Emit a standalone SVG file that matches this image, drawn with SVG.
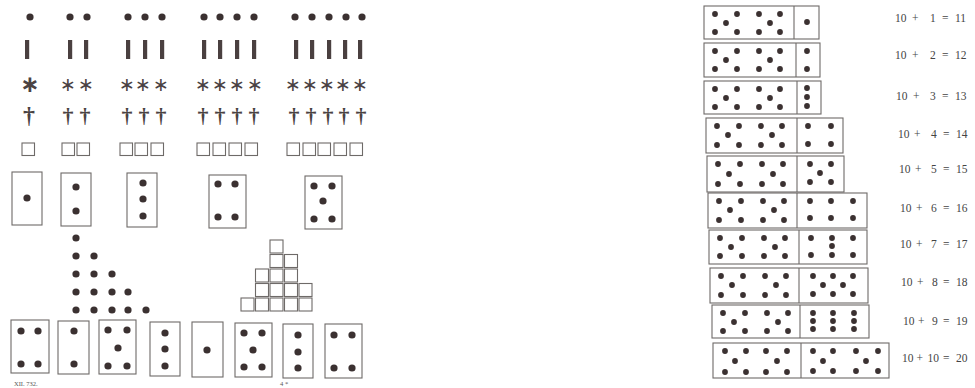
<svg xmlns="http://www.w3.org/2000/svg" xmlns:xlink="http://www.w3.org/1999/xlink" width="975" height="388" viewBox="0 0 975 388">
<style>
.d{fill:#3b3131}
.sd{fill:#3b3131}
.o{fill:none;stroke:#6e6a68;stroke-width:1.1}
.bar{fill:#4a4040}
.ast{font-family:"DejaVu Sans",sans-serif;font-size:19px;fill:#4a4242;text-anchor:middle}
.dag{font-family:"Liberation Serif",serif;font-size:22px;font-weight:bold;fill:#4a4242;text-anchor:middle}
.lbl{font-family:"Liberation Serif",serif;font-size:11.5px;fill:#444}
.cap{font-family:"Liberation Serif",serif;font-size:6.5px;fill:#555}
</style>
<defs>
<circle id="dot" r="3.6" class="d"/>
<circle id="sdot" r="2.9" class="sd"/>
<rect id="sq" width="12.5" height="12.5" class="o"/>
<rect id="bq" width="13" height="13" class="o"/>
<rect id="br" x="-2" width="4.2" height="19" class="bar"/>
</defs>
<rect width="975" height="388" fill="#fff"/>

<g id="row-dots">
<use xlink:href="#dot" x="30" y="17"/>
<use xlink:href="#dot" x="70" y="17"/><use xlink:href="#dot" x="87" y="17"/>
<use xlink:href="#dot" x="128" y="17"/><use xlink:href="#dot" x="145" y="17"/><use xlink:href="#dot" x="162" y="17"/>
<use xlink:href="#dot" x="204" y="17"/><use xlink:href="#dot" x="220" y="17"/><use xlink:href="#dot" x="237" y="17"/><use xlink:href="#dot" x="254" y="17"/>
<use xlink:href="#dot" x="295" y="17"/><use xlink:href="#dot" x="312" y="17"/><use xlink:href="#dot" x="329" y="17"/><use xlink:href="#dot" x="346" y="17"/><use xlink:href="#dot" x="362" y="17"/>
</g>

<g id="row-bars">
<use xlink:href="#br" x="27" y="40"/>
<use xlink:href="#br" x="70" y="40"/><use xlink:href="#br" x="86" y="40"/>
<use xlink:href="#br" x="128" y="40"/><use xlink:href="#br" x="145" y="40"/><use xlink:href="#br" x="162" y="40"/>
<use xlink:href="#br" x="204" y="40"/><use xlink:href="#br" x="220" y="40"/><use xlink:href="#br" x="237" y="40"/><use xlink:href="#br" x="254" y="40"/>
<use xlink:href="#br" x="296" y="40"/><use xlink:href="#br" x="312" y="40"/><use xlink:href="#br" x="329" y="40"/><use xlink:href="#br" x="345" y="40"/><use xlink:href="#br" x="360" y="40"/>
</g>

<g id="row-asterisks">
<text class="ast" x="30" y="92" style="font-size:23px;font-weight:bold">∗</text>
<text class="ast" x="68" y="91">∗</text><text class="ast" x="86" y="91">∗</text>
<text class="ast" x="127" y="91">∗</text><text class="ast" x="143" y="91">∗</text><text class="ast" x="161" y="91">∗</text>
<text class="ast" x="203" y="91">∗</text><text class="ast" x="220" y="91">∗</text><text class="ast" x="237" y="91">∗</text><text class="ast" x="255" y="91">∗</text>
<text class="ast" x="293" y="91">∗</text><text class="ast" x="310" y="91">∗</text><text class="ast" x="327" y="91">∗</text><text class="ast" x="343" y="91">∗</text><text class="ast" x="360" y="91">∗</text>
</g>

<g id="row-daggers">
<text class="dag" x="29" y="123" style="font-size:24px">†</text>
<text class="dag" x="68" y="123">†</text><text class="dag" x="85" y="123">†</text>
<text class="dag" x="127" y="123">†</text><text class="dag" x="144" y="123">†</text><text class="dag" x="161" y="123">†</text>
<text class="dag" x="203" y="123">†</text><text class="dag" x="220" y="123">†</text><text class="dag" x="237" y="123">†</text><text class="dag" x="254" y="123">†</text>
<text class="dag" x="294" y="123">†</text><text class="dag" x="311" y="123">†</text><text class="dag" x="328" y="123">†</text><text class="dag" x="344" y="123">†</text><text class="dag" x="361" y="123">†</text>
</g>

<g id="row-squares">
<use xlink:href="#sq" x="22" y="143"/>
<use xlink:href="#sq" x="62" y="143"/><use xlink:href="#sq" x="77" y="143"/>
<use xlink:href="#sq" x="120" y="143"/><use xlink:href="#sq" x="135" y="143"/><use xlink:href="#sq" x="151" y="143"/>
<use xlink:href="#sq" x="197" y="143"/><use xlink:href="#sq" x="213" y="143"/><use xlink:href="#sq" x="229" y="143"/><use xlink:href="#sq" x="245" y="143"/>
<use xlink:href="#sq" x="287" y="143"/><use xlink:href="#sq" x="303" y="143"/><use xlink:href="#sq" x="318" y="143"/><use xlink:href="#sq" x="334" y="143"/><use xlink:href="#sq" x="350" y="143"/>
</g>

<g id="card-1"><rect class="o" x="12" y="172" width="30" height="53"/><use xlink:href="#dot" x="27" y="198"/></g>
<g id="card-2"><rect class="o" x="61" y="173" width="30" height="53"/><use xlink:href="#dot" x="76" y="187"/><use xlink:href="#dot" x="76" y="211"/></g>
<g id="card-3"><rect class="o" x="127" y="173" width="30" height="54"/><use xlink:href="#dot" x="143" y="183"/><use xlink:href="#dot" x="143" y="199"/><use xlink:href="#dot" x="143" y="216"/></g>
<g id="card-4"><rect class="o" x="209" y="175" width="37" height="53"/><use xlink:href="#dot" x="218" y="184"/><use xlink:href="#dot" x="235" y="184"/><use xlink:href="#dot" x="218" y="217"/><use xlink:href="#dot" x="235" y="217"/></g>
<g id="card-5"><rect class="o" x="305" y="176" width="37" height="53"/><use xlink:href="#dot" x="314" y="186"/><use xlink:href="#dot" x="332" y="186"/><use xlink:href="#dot" x="323" y="201"/><use xlink:href="#dot" x="314" y="219"/><use xlink:href="#dot" x="332" y="219"/></g>

<g id="dot-triangle">
<use xlink:href="#dot" x="76" y="238"/>
<use xlink:href="#dot" x="76" y="256"/><use xlink:href="#dot" x="94" y="256"/>
<use xlink:href="#dot" x="76" y="274"/><use xlink:href="#dot" x="94" y="274"/><use xlink:href="#dot" x="112" y="274"/>
<use xlink:href="#dot" x="76" y="292"/><use xlink:href="#dot" x="94" y="292"/><use xlink:href="#dot" x="112" y="292"/><use xlink:href="#dot" x="128" y="292"/>
<use xlink:href="#dot" x="76" y="310"/><use xlink:href="#dot" x="94" y="310"/><use xlink:href="#dot" x="112" y="310"/><use xlink:href="#dot" x="128" y="310"/><use xlink:href="#dot" x="146" y="310"/>
</g>

<g id="square-pyramid">
<use xlink:href="#bq" x="270" y="240"/>
<use xlink:href="#bq" x="270" y="254.5"/><use xlink:href="#bq" x="284.5" y="254.5"/>
<use xlink:href="#bq" x="255.5" y="269"/><use xlink:href="#bq" x="270" y="269"/><use xlink:href="#bq" x="284.5" y="269"/>
<use xlink:href="#bq" x="255.5" y="283.5"/><use xlink:href="#bq" x="270" y="283.5"/><use xlink:href="#bq" x="284.5" y="283.5"/><use xlink:href="#bq" x="299" y="283.5"/>
<use xlink:href="#bq" x="241" y="298"/><use xlink:href="#bq" x="255.5" y="298"/><use xlink:href="#bq" x="270" y="298"/><use xlink:href="#bq" x="284.5" y="298"/><use xlink:href="#bq" x="299" y="298"/>
</g>

<g id="bcard-1"><rect class="o" x="11" y="320" width="38" height="53"/><use xlink:href="#dot" x="21" y="331"/><use xlink:href="#dot" x="38" y="331"/><use xlink:href="#dot" x="21" y="364"/><use xlink:href="#dot" x="38" y="364"/></g>
<g id="bcard-2"><rect class="o" x="58" y="321" width="31" height="53"/><use xlink:href="#dot" x="74" y="331"/><use xlink:href="#dot" x="74" y="364"/></g>
<g id="bcard-3"><rect class="o" x="99" y="320" width="37" height="54"/><use xlink:href="#dot" x="108" y="330"/><use xlink:href="#dot" x="127" y="330"/><use xlink:href="#dot" x="118" y="348"/><use xlink:href="#dot" x="108" y="366"/><use xlink:href="#dot" x="127" y="366"/></g>
<g id="bcard-4"><rect class="o" x="150" y="322" width="30" height="54"/><use xlink:href="#dot" x="165" y="333"/><use xlink:href="#dot" x="165" y="349"/><use xlink:href="#dot" x="165" y="366"/></g>
<g id="bcard-5"><rect class="o" x="192" y="322" width="31" height="55"/><use xlink:href="#dot" x="207" y="350"/></g>
<g id="bcard-6"><rect class="o" x="235" y="323" width="37" height="54"/><use xlink:href="#dot" x="244" y="333"/><use xlink:href="#dot" x="262" y="333"/><use xlink:href="#dot" x="253" y="350"/><use xlink:href="#dot" x="244" y="367"/><use xlink:href="#dot" x="262" y="367"/></g>
<g id="bcard-7"><rect class="o" x="283" y="324" width="30" height="54"/><use xlink:href="#dot" x="298" y="335"/><use xlink:href="#dot" x="298" y="352"/><use xlink:href="#dot" x="298" y="368"/></g>
<g id="bcard-8"><rect class="o" x="325" y="324" width="37" height="54"/><use xlink:href="#dot" x="334" y="335"/><use xlink:href="#dot" x="352" y="335"/><use xlink:href="#dot" x="334" y="368"/><use xlink:href="#dot" x="352" y="368"/></g>

<g id="captions">
<text class="cap" x="14" y="386">XII. 732.</text>
<text class="cap" x="280" y="386">4 *</text>
</g>

<g id="domino-1"><rect class="o" x="704" y="6" width="115" height="33"/><line class="o" x1="794" y1="6" x2="794" y2="39"/>
<use xlink:href="#sdot" x="715" y="14"/><use xlink:href="#sdot" x="737" y="14"/><use xlink:href="#sdot" x="726" y="23"/><use xlink:href="#sdot" x="715" y="32"/><use xlink:href="#sdot" x="737" y="32"/>
<use xlink:href="#sdot" x="759" y="14"/><use xlink:href="#sdot" x="780" y="14"/><use xlink:href="#sdot" x="770" y="23"/><use xlink:href="#sdot" x="759" y="32"/><use xlink:href="#sdot" x="780" y="32"/>
<use xlink:href="#sdot" x="807" y="22"/></g>

<g id="domino-2"><rect class="o" x="704" y="43" width="116" height="34"/><line class="o" x1="796" y1="43" x2="796" y2="77"/>
<use xlink:href="#sdot" x="715" y="51"/><use xlink:href="#sdot" x="737" y="51"/><use xlink:href="#sdot" x="726" y="60"/><use xlink:href="#sdot" x="715" y="69"/><use xlink:href="#sdot" x="737" y="69"/>
<use xlink:href="#sdot" x="759" y="51"/><use xlink:href="#sdot" x="780" y="51"/><use xlink:href="#sdot" x="770" y="60"/><use xlink:href="#sdot" x="759" y="69"/><use xlink:href="#sdot" x="780" y="69"/>
<use xlink:href="#sdot" x="807" y="51"/><use xlink:href="#sdot" x="807" y="69"/></g>

<g id="domino-3"><rect class="o" x="704" y="81" width="117" height="33"/><line class="o" x1="797" y1="81" x2="797" y2="114"/>
<use xlink:href="#sdot" x="715" y="89"/><use xlink:href="#sdot" x="737" y="89"/><use xlink:href="#sdot" x="726" y="98"/><use xlink:href="#sdot" x="715" y="107"/><use xlink:href="#sdot" x="737" y="107"/>
<use xlink:href="#sdot" x="759" y="89"/><use xlink:href="#sdot" x="780" y="89"/><use xlink:href="#sdot" x="770" y="98"/><use xlink:href="#sdot" x="759" y="107"/><use xlink:href="#sdot" x="780" y="107"/>
<use xlink:href="#sdot" x="807" y="88"/><use xlink:href="#sdot" x="807" y="97"/><use xlink:href="#sdot" x="807" y="106"/></g>

<g id="domino-4"><rect class="o" x="706" y="118" width="137" height="35"/><line class="o" x1="797" y1="118" x2="797" y2="153"/>
<use xlink:href="#sdot" x="717" y="126"/><use xlink:href="#sdot" x="739" y="126"/><use xlink:href="#sdot" x="728" y="135"/><use xlink:href="#sdot" x="717" y="145"/><use xlink:href="#sdot" x="739" y="145"/>
<use xlink:href="#sdot" x="761" y="126"/><use xlink:href="#sdot" x="782" y="126"/><use xlink:href="#sdot" x="772" y="135"/><use xlink:href="#sdot" x="761" y="145"/><use xlink:href="#sdot" x="782" y="145"/>
<use xlink:href="#sdot" x="808" y="126"/><use xlink:href="#sdot" x="831" y="126"/><use xlink:href="#sdot" x="808" y="144"/><use xlink:href="#sdot" x="831" y="144"/></g>

<g id="domino-5"><rect class="o" x="707" y="156" width="137" height="36"/><line class="o" x1="797" y1="156" x2="797" y2="192"/>
<use xlink:href="#sdot" x="718" y="164"/><use xlink:href="#sdot" x="740" y="164"/><use xlink:href="#sdot" x="729" y="174"/><use xlink:href="#sdot" x="718" y="184"/><use xlink:href="#sdot" x="740" y="184"/>
<use xlink:href="#sdot" x="762" y="164"/><use xlink:href="#sdot" x="783" y="164"/><use xlink:href="#sdot" x="773" y="174"/><use xlink:href="#sdot" x="762" y="184"/><use xlink:href="#sdot" x="783" y="184"/>
<use xlink:href="#sdot" x="810" y="164"/><use xlink:href="#sdot" x="831" y="164"/><use xlink:href="#sdot" x="820" y="173"/><use xlink:href="#sdot" x="810" y="182"/><use xlink:href="#sdot" x="831" y="182"/></g>

<g id="domino-6"><rect class="o" x="708" y="193" width="159" height="35"/><line class="o" x1="797" y1="193" x2="797" y2="228"/>
<use xlink:href="#sdot" x="719" y="201"/><use xlink:href="#sdot" x="741" y="201"/><use xlink:href="#sdot" x="730" y="210"/><use xlink:href="#sdot" x="719" y="220"/><use xlink:href="#sdot" x="741" y="220"/>
<use xlink:href="#sdot" x="763" y="201"/><use xlink:href="#sdot" x="784" y="201"/><use xlink:href="#sdot" x="774" y="210"/><use xlink:href="#sdot" x="763" y="220"/><use xlink:href="#sdot" x="784" y="220"/>
<use xlink:href="#sdot" x="810" y="201"/><use xlink:href="#sdot" x="831" y="201"/><use xlink:href="#sdot" x="853" y="201"/><use xlink:href="#sdot" x="810" y="218"/><use xlink:href="#sdot" x="831" y="218"/><use xlink:href="#sdot" x="853" y="218"/></g>

<g id="domino-7"><rect class="o" x="709" y="230" width="158" height="34"/><line class="o" x1="799" y1="230" x2="799" y2="264"/>
<use xlink:href="#sdot" x="720" y="238"/><use xlink:href="#sdot" x="742" y="238"/><use xlink:href="#sdot" x="731" y="247"/><use xlink:href="#sdot" x="720" y="256"/><use xlink:href="#sdot" x="742" y="256"/>
<use xlink:href="#sdot" x="764" y="238"/><use xlink:href="#sdot" x="785" y="238"/><use xlink:href="#sdot" x="775" y="247"/><use xlink:href="#sdot" x="764" y="256"/><use xlink:href="#sdot" x="785" y="256"/>
<use xlink:href="#sdot" x="811" y="238"/><use xlink:href="#sdot" x="832" y="238"/><use xlink:href="#sdot" x="853" y="238"/><use xlink:href="#sdot" x="832" y="246"/><use xlink:href="#sdot" x="811" y="255"/><use xlink:href="#sdot" x="832" y="255"/><use xlink:href="#sdot" x="853" y="255"/></g>

<g id="domino-8"><rect class="o" x="710" y="268" width="158" height="35"/><line class="o" x1="799" y1="268" x2="799" y2="303"/>
<use xlink:href="#sdot" x="721" y="276"/><use xlink:href="#sdot" x="743" y="276"/><use xlink:href="#sdot" x="732" y="285"/><use xlink:href="#sdot" x="721" y="295"/><use xlink:href="#sdot" x="743" y="295"/>
<use xlink:href="#sdot" x="765" y="276"/><use xlink:href="#sdot" x="786" y="276"/><use xlink:href="#sdot" x="776" y="285"/><use xlink:href="#sdot" x="765" y="295"/><use xlink:href="#sdot" x="786" y="295"/>
<use xlink:href="#sdot" x="813" y="276"/><use xlink:href="#sdot" x="833" y="276"/><use xlink:href="#sdot" x="853" y="276"/><use xlink:href="#sdot" x="823" y="285"/><use xlink:href="#sdot" x="843" y="285"/><use xlink:href="#sdot" x="813" y="294"/><use xlink:href="#sdot" x="833" y="294"/><use xlink:href="#sdot" x="853" y="294"/></g>

<g id="domino-9"><rect class="o" x="712" y="305" width="157" height="33"/><line class="o" x1="800" y1="305" x2="800" y2="338"/>
<use xlink:href="#sdot" x="723" y="313"/><use xlink:href="#sdot" x="745" y="313"/><use xlink:href="#sdot" x="734" y="322"/><use xlink:href="#sdot" x="723" y="331"/><use xlink:href="#sdot" x="745" y="331"/>
<use xlink:href="#sdot" x="767" y="313"/><use xlink:href="#sdot" x="788" y="313"/><use xlink:href="#sdot" x="778" y="322"/><use xlink:href="#sdot" x="767" y="331"/><use xlink:href="#sdot" x="788" y="331"/>
<use xlink:href="#sdot" x="813" y="313"/><use xlink:href="#sdot" x="833" y="313"/><use xlink:href="#sdot" x="854" y="313"/><use xlink:href="#sdot" x="813" y="321"/><use xlink:href="#sdot" x="833" y="321"/><use xlink:href="#sdot" x="854" y="321"/><use xlink:href="#sdot" x="813" y="329"/><use xlink:href="#sdot" x="833" y="329"/><use xlink:href="#sdot" x="854" y="329"/></g>

<g id="domino-10"><rect class="o" x="713" y="343" width="176" height="35"/><line class="o" x1="801" y1="343" x2="801" y2="378"/>
<use xlink:href="#sdot" x="725" y="351"/><use xlink:href="#sdot" x="746" y="351"/><use xlink:href="#sdot" x="735" y="361"/><use xlink:href="#sdot" x="725" y="372"/><use xlink:href="#sdot" x="746" y="372"/>
<use xlink:href="#sdot" x="766" y="351"/><use xlink:href="#sdot" x="787" y="351"/><use xlink:href="#sdot" x="777" y="361"/><use xlink:href="#sdot" x="766" y="372"/><use xlink:href="#sdot" x="787" y="372"/>
<use xlink:href="#sdot" x="813" y="351"/><use xlink:href="#sdot" x="833" y="351"/><use xlink:href="#sdot" x="823" y="361"/><use xlink:href="#sdot" x="813" y="371"/><use xlink:href="#sdot" x="833" y="371"/>
<use xlink:href="#sdot" x="856" y="351"/><use xlink:href="#sdot" x="878" y="351"/><use xlink:href="#sdot" x="866" y="361"/><use xlink:href="#sdot" x="856" y="371"/><use xlink:href="#sdot" x="878" y="371"/></g>

<g id="labels">
<text class="lbl" y="22"><tspan x="895">10</tspan><tspan x="912">+</tspan><tspan x="930">1</tspan><tspan x="942">=</tspan><tspan x="955">11</tspan></text>
<text class="lbl" y="59"><tspan x="895">10</tspan><tspan x="912">+</tspan><tspan x="930">2</tspan><tspan x="942">=</tspan><tspan x="955">12</tspan></text>
<text class="lbl" y="100"><tspan x="896">10</tspan><tspan x="913">+</tspan><tspan x="930">3</tspan><tspan x="942">=</tspan><tspan x="955">13</tspan></text>
<text class="lbl" y="138"><tspan x="898">10</tspan><tspan x="914">+</tspan><tspan x="931">4</tspan><tspan x="943">=</tspan><tspan x="956">14</tspan></text>
<text class="lbl" y="173"><tspan x="899">10</tspan><tspan x="915">+</tspan><tspan x="931">5</tspan><tspan x="943">=</tspan><tspan x="956">15</tspan></text>
<text class="lbl" y="212"><tspan x="900">10</tspan><tspan x="916">+</tspan><tspan x="931">6</tspan><tspan x="943">=</tspan><tspan x="956">16</tspan></text>
<text class="lbl" y="248"><tspan x="900">10</tspan><tspan x="916">+</tspan><tspan x="931">7</tspan><tspan x="943">=</tspan><tspan x="956">17</tspan></text>
<text class="lbl" y="286"><tspan x="901">10</tspan><tspan x="917">+</tspan><tspan x="932">8</tspan><tspan x="943">=</tspan><tspan x="956">18</tspan></text>
<text class="lbl" y="325"><tspan x="903">10</tspan><tspan x="918">+</tspan><tspan x="932">9</tspan><tspan x="943">=</tspan><tspan x="956">19</tspan></text>
<text class="lbl" y="362"><tspan x="902">10</tspan><tspan x="916.5">+</tspan><tspan x="927.5">10</tspan><tspan x="943">=</tspan><tspan x="956">20</tspan></text>
</g>
</svg>
